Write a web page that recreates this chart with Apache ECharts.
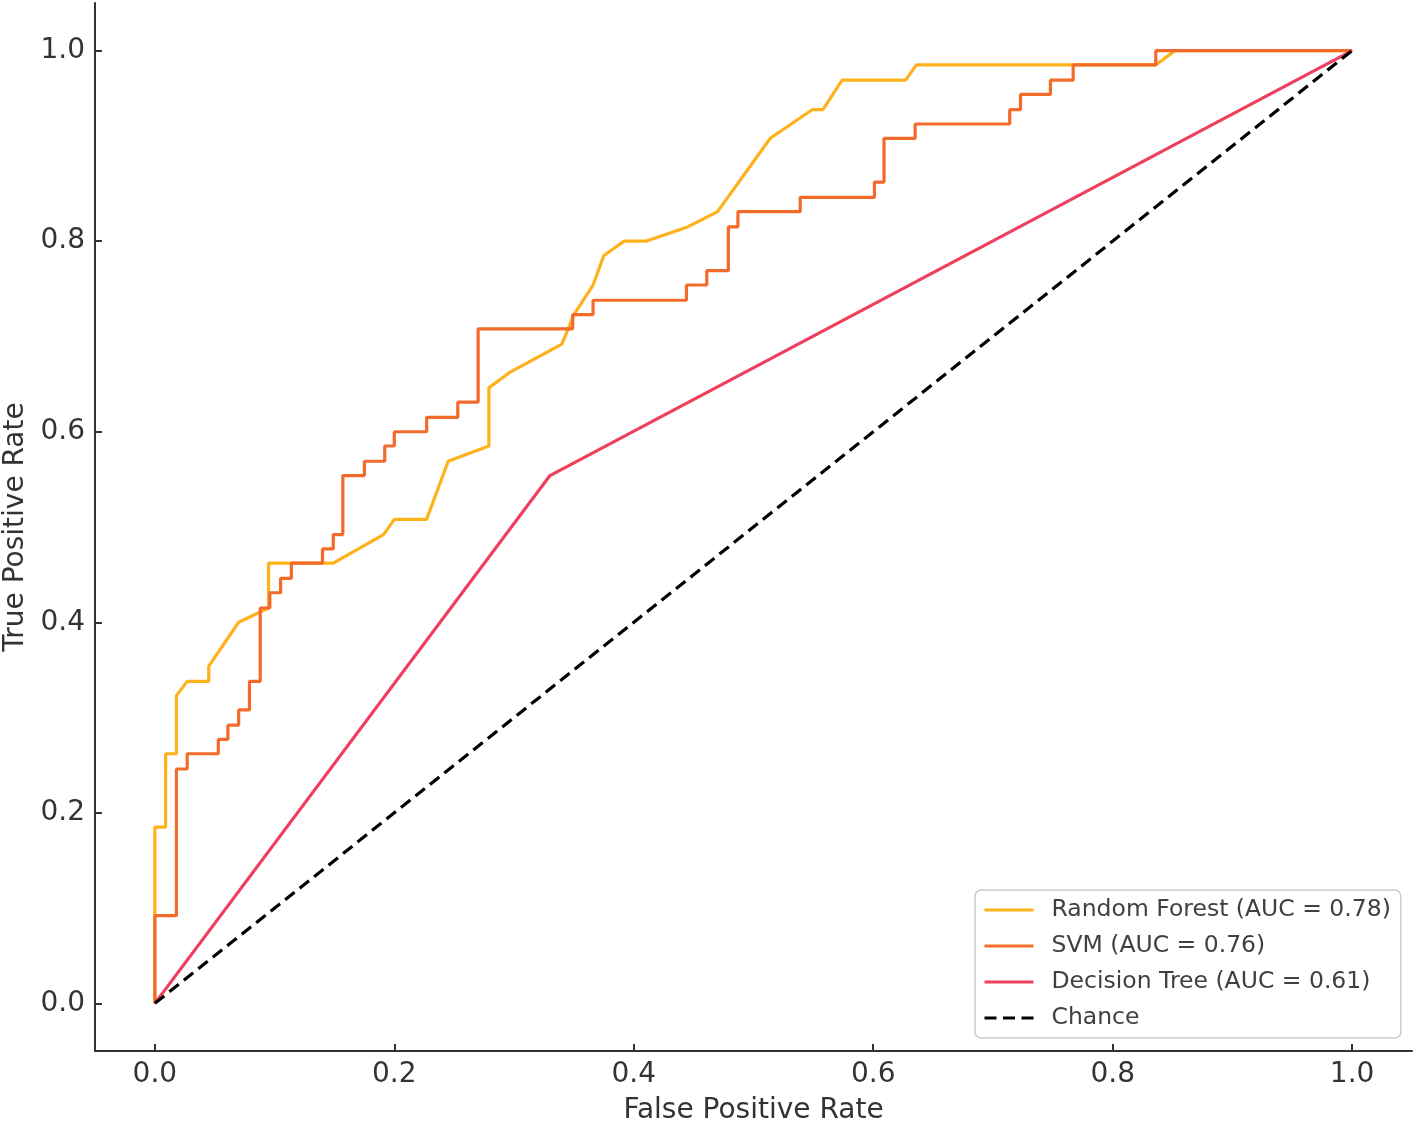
<!DOCTYPE html>
<html>
<head>
<meta charset="utf-8">
<script src="https://cdn.jsdelivr.net/npm/echarts@6/dist/echarts.min.js"></script>
<style>
html,body{margin:0;padding:0;background:#fff;}
#c{width:1417px;height:1122px;}
</style>
</head>
<body>
<div id="c"></div>
<script>
// ---- Data ----
const tickValues = [0, 0.2, 0.4, 0.6, 0.8, 1.0];

const seriesNames = [
  'Random Forest (AUC = 0.78)',
  'SVM (AUC = 0.76)',
  'Decision Tree (AUC = 0.61)',
  'Chance'
];

const rfFpr = [0, 0, 0.009, 0.009, 0.018, 0.018, 0.027, 0.045, 0.045, 0.070, 0.095, 0.095, 0.149, 0.191, 0.200, 0.227, 0.245, 0.279, 0.279, 0.296, 0.340, 0.350, 0.366, 0.375, 0.392, 0.410, 0.445, 0.470, 0.514, 0.549, 0.558, 0.574, 0.627, 0.636, 0.836, 0.852, 1.0];
const rfTpr = [0, 0.185, 0.185, 0.262, 0.262, 0.323, 0.338, 0.338, 0.354, 0.400, 0.415, 0.462, 0.462, 0.492, 0.508, 0.508, 0.569, 0.585, 0.646, 0.662, 0.692, 0.723, 0.754, 0.785, 0.800, 0.800, 0.815, 0.831, 0.908, 0.938, 0.938, 0.969, 0.969, 0.985, 0.985, 1.0, 1.0];

const svmFpr = [0, 0, 0.018, 0.018, 0.027, 0.027, 0.053, 0.053, 0.061, 0.061, 0.070, 0.070, 0.079, 0.079, 0.088, 0.088, 0.096, 0.096, 0.105, 0.105, 0.114, 0.114, 0.140, 0.140, 0.149, 0.149, 0.157, 0.157, 0.175, 0.175, 0.192, 0.192, 0.200, 0.200, 0.227, 0.227, 0.253, 0.253, 0.270, 0.270, 0.349, 0.349, 0.366, 0.366, 0.444, 0.444, 0.461, 0.461, 0.479, 0.479, 0.487, 0.487, 0.539, 0.539, 0.601, 0.601, 0.609, 0.609, 0.635, 0.635, 0.714, 0.714, 0.723, 0.723, 0.748, 0.748, 0.767, 0.767, 0.836, 0.836, 1.0];
const svmTpr = [0, 0.092, 0.092, 0.246, 0.246, 0.262, 0.262, 0.277, 0.277, 0.292, 0.292, 0.308, 0.308, 0.338, 0.338, 0.415, 0.415, 0.431, 0.431, 0.446, 0.446, 0.462, 0.462, 0.477, 0.477, 0.492, 0.492, 0.554, 0.554, 0.569, 0.569, 0.585, 0.585, 0.600, 0.600, 0.615, 0.615, 0.631, 0.631, 0.708, 0.708, 0.723, 0.723, 0.738, 0.738, 0.754, 0.754, 0.769, 0.769, 0.815, 0.815, 0.831, 0.831, 0.846, 0.846, 0.862, 0.862, 0.908, 0.908, 0.923, 0.923, 0.938, 0.938, 0.954, 0.954, 0.969, 0.969, 0.985, 0.985, 1.0, 1.0];

const dtFpr = [0, 0.330, 1.0];
const dtTpr = [0, 0.554, 1.0];

const chanceFpr = [0, 1];
const chanceTpr = [0, 1];

const colors = ['#FFB11B', '#F26B2A', '#EE3F5E', '#000000'];

// ---- Build ----
function pairs(xs, ys) { return xs.map((x, i) => [x, ys[i]]); }

const font = 'DejaVu Sans';
const chart = echarts.init(document.getElementById('c'), null, {renderer: 'canvas'});

function makeAxis(name, nameGap, labelMargin) {
  return {
    type: 'value',
    min: -0.05,
    max: 1.05,
    splitLine: {show: false},
    axisLine: {show: true, onZero: false, lineStyle: {color: '#333', width: 2}},
    axisTick: {show: true, length: 7, inside: true, customValues: tickValues, lineStyle: {color: '#333', width: 2}},
    axisLabel: {
      customValues: tickValues,
      formatter: v => v.toFixed(1),
      color: '#333',
      fontFamily: font,
      fontSize: 28,
      margin: labelMargin
    },
    name: name,
    nameGap: nameGap,
    nameLocation: 'middle',
    nameTextStyle: {color: '#333', fontFamily: font, fontSize: 28}
  };
}

chart.setOption({
  animation: false,
  backgroundColor: '#fff',
  grid: {left: 95, right: 5, top: 3, bottom: 71, containLabel: false, outerBoundsMode: 'none'},
  xAxis: makeAxis('False Positive Rate', 46, 10),
  yAxis: makeAxis('True Positive Rate', 48, 10),
  legend: {
    data: seriesNames,
    orient: 'vertical',
    left: 975,
    top: 890,
    padding: [8, 10, 8, 8],
    itemWidth: 49,
    itemHeight: 2,
    itemGap: 12,
    lineStyle: {width: 3},
    backgroundColor: '#fff',
    borderColor: '#cccccc',
    borderWidth: 1.5,
    borderRadius: 6,
    textStyle: {color: '#404040', fontFamily: font, fontSize: 23.5, lineHeight: 24, padding: [0, 0, 0, 13]}
  },
  series: [
    {name: seriesNames[0], data: pairs(rfFpr, rfTpr), color: colors[0], z: 2},
    {name: seriesNames[1], data: pairs(svmFpr, svmTpr), color: colors[1], z: 3},
    {name: seriesNames[2], data: pairs(dtFpr, dtTpr), color: colors[2], z: 4},
    {name: seriesNames[3], data: pairs(chanceFpr, chanceTpr), color: colors[3], z: 5, dashed: true}
  ].map(s => ({
    type: 'line',
    name: s.name,
    data: s.data,
    z: s.z,
    symbol: 'none',
    showSymbol: false,
    smooth: false,
    color: s.color,
    itemStyle: {color: s.color},
    lineStyle: {color: s.color, width: 3.2, type: s.dashed ? [12, 6.5] : 'solid'}
  }))
});
</script>
</body>
</html>
